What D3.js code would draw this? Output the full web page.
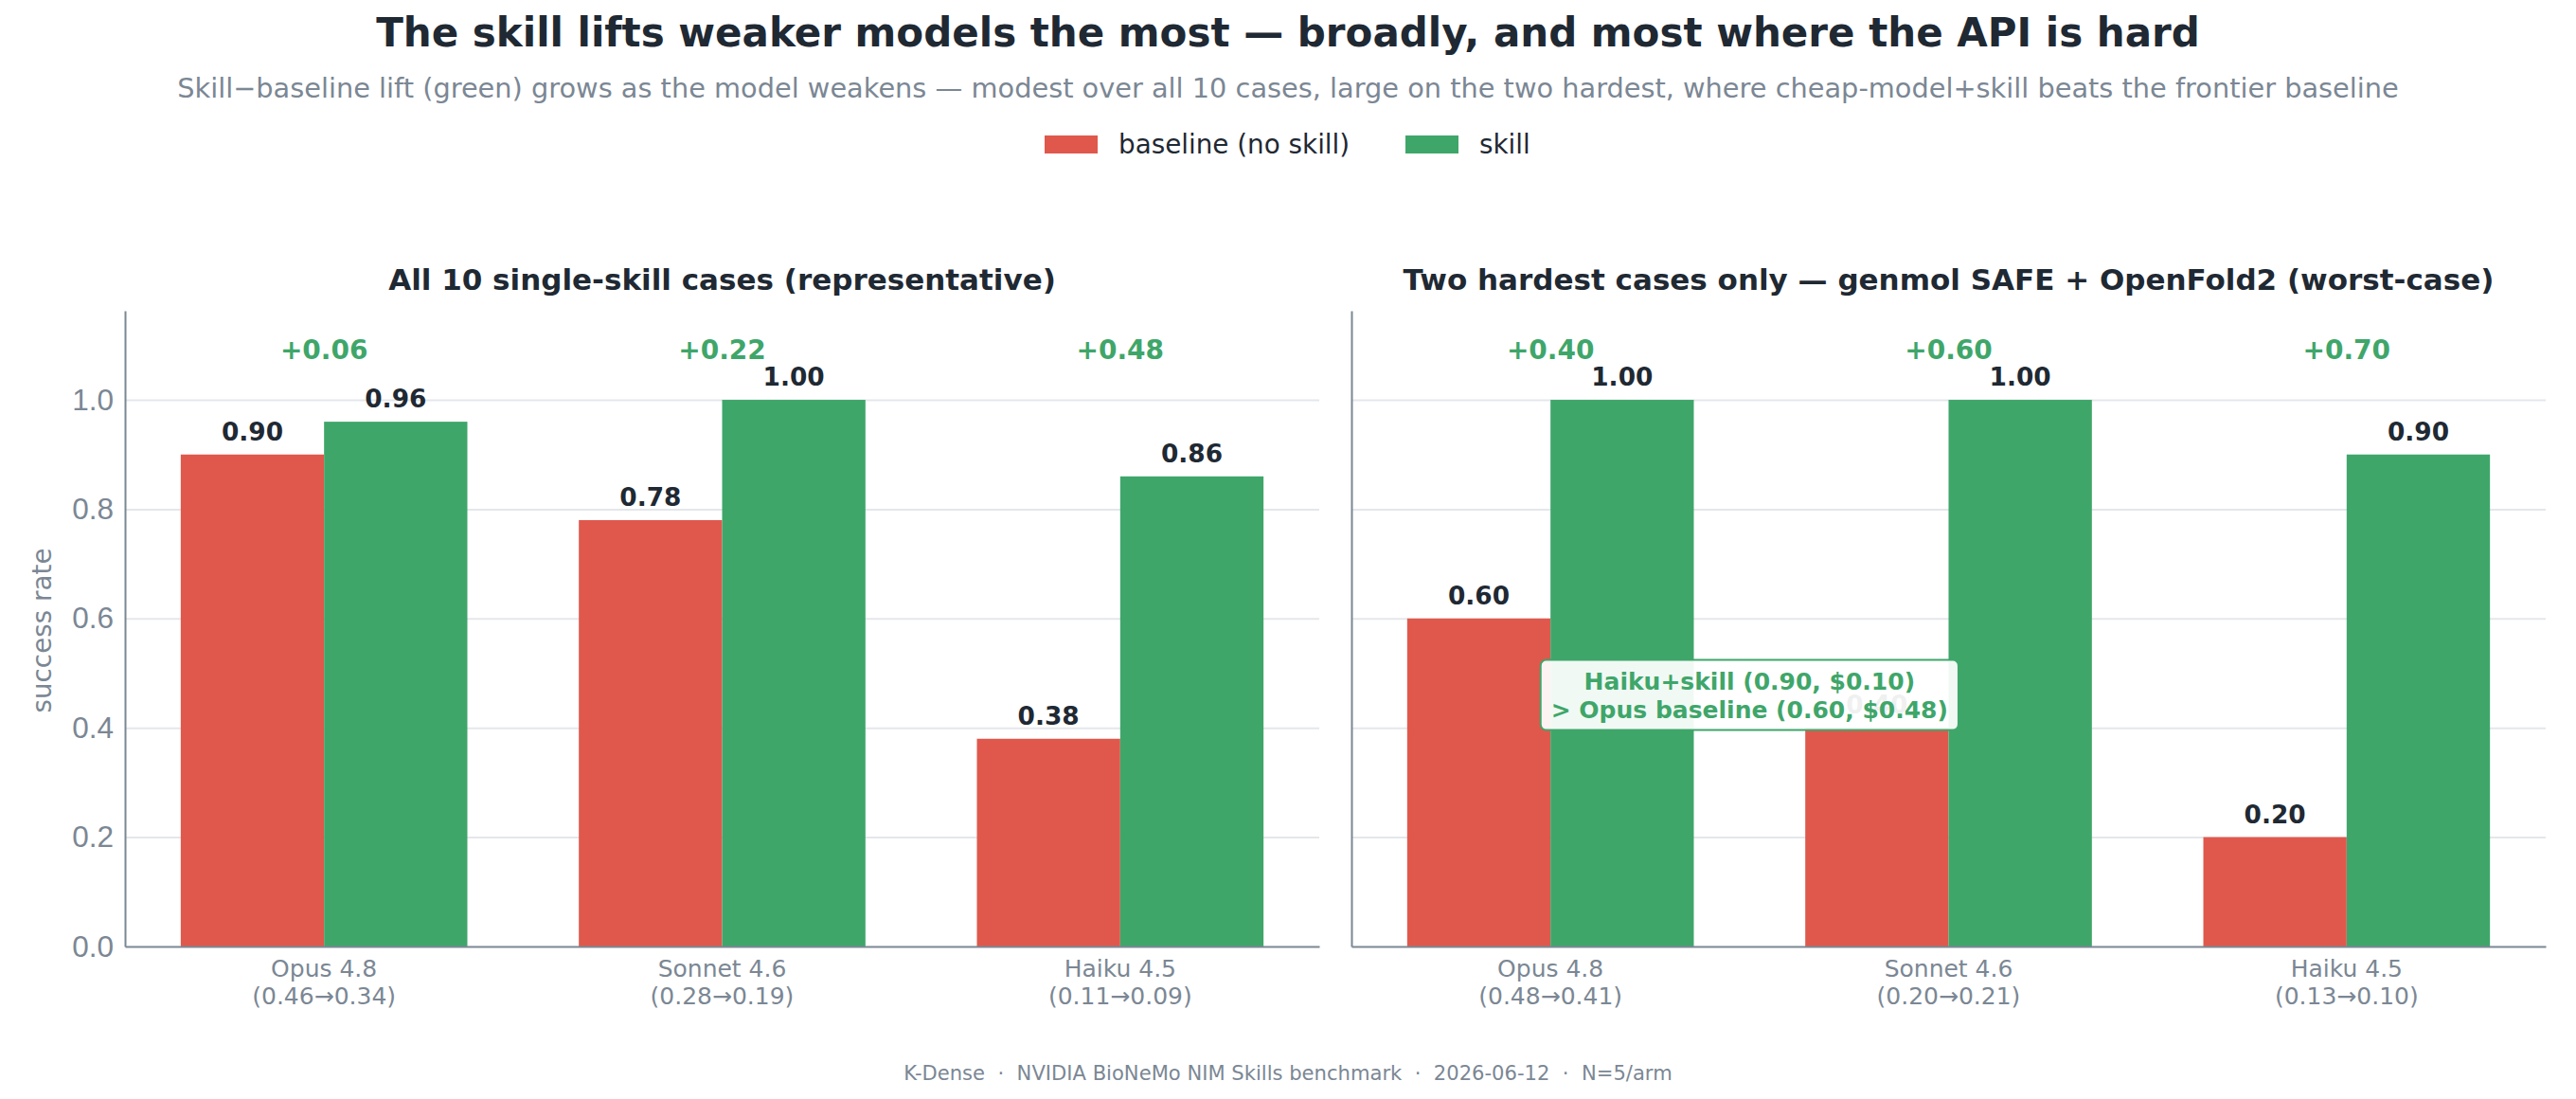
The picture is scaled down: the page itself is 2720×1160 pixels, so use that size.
<!DOCTYPE html>
<html lang="en">
<head>
<meta charset="UTF-8">
<title>Skill lift by model</title>
<script src="https://cdn.jsdelivr.net/npm/d3@7"></script>
<style>
    html, body { margin: 0; padding: 0; background: #ffffff; }
    svg { display: block; font-family: "DejaVu Sans", sans-serif; }
    .grid line { stroke: #e4e7eb; stroke-width: 2; }
    .grid .domain { display: none; }
    .yaxis .domain, .xaxis .domain { stroke: #7b8794; stroke-width: 2; }
    .yaxis text { fill: #7b8794; font-size: 31.5px; }
</style>
</head>
<body>
<svg id="chart" width="2720" height="1160"></svg>
<script>
// ---- data ----
var models = ["Opus 4.8", "Sonnet 4.6", "Haiku 4.5"];
var series = ["baseline (no skill)", "skill"];
var colors = ["#e0584c", "#3fa66a"];

var allBaseline = [0.90, 0.78, 0.38];
var allSkill = [0.96, 1.00, 0.86];
var allCost = ["(0.46→0.34)", "(0.28→0.19)", "(0.11→0.09)"];

var hardBaseline = [0.60, 0.40, 0.20];
var hardSkill = [1.00, 1.00, 0.90];
var hardCost = ["(0.48→0.41)", "(0.20→0.21)", "(0.13→0.10)"];

var yTicks = [0, 0.2, 0.4, 0.6, 0.8, 1.0];
var yMax = 1.163;

var noteLines = ["Haiku+skill (0.90, $0.10)", "> Opus baseline (0.60, $0.48)"];
var noteAt = {x: 0.5, y: 0.46}; // group units / data units of the right panel

var svg = d3.select("#chart");
var dark = "#1f2933", gray = "#7b8794";

// ---- header ----
svg.append("text").attr("x", 1360).attr("y", 49)
    .attr("text-anchor", "middle").attr("font-size", 42).attr("font-weight", "bold")
    .attr("fill", dark)
    .text("The skill lifts weaker models the most — broadly, and most where the API is hard");

svg.append("text").attr("x", 1360).attr("y", 103)
    .attr("text-anchor", "middle").attr("font-size", 28.8).attr("fill", gray)
    .text("Skill\u2212baseline lift (green) grows as the model weakens — modest over all 10 cases, large on the two hardest, where cheap-model+skill beats the frontier baseline");

// legend
var legend = svg.append("g").attr("transform", "translate(1103,143)");
var legX = [0, 381];
series.forEach(function(s, i) {
    var g = legend.append("g").attr("transform", "translate(" + legX[i] + ",0)");
    g.append("rect").attr("width", 56).attr("height", 19).attr("fill", colors[i]);
    g.append("text").attr("x", 78).attr("y", 9.5).attr("dy", "0.35em")
        .attr("font-size", 27.8).attr("fill", dark).text(s);
});

// footer
svg.append("text").attr("x", 1360).attr("y", 1140)
    .attr("text-anchor", "middle").attr("font-size", 21.1).attr("fill", gray)
    .style("white-space", "pre")
    .text("K-Dense  ·  NVIDIA BioNeMo NIM Skills benchmark  ·  2026-06-12  ·  N=5/arm");

// ---- panels ----
var yTop = 328, yBottom = 999;
var y = d3.scaleLinear().domain([0, yMax]).range([yBottom, yTop]);

function drawPanel(x0, x1, title, base, skill, cost, showY) {
    var g = svg.append("g");
    var x = d3.scaleBand().domain(models).range([x0, x1])
        .paddingInner(0.28).paddingOuter(0.14);
    var xs = d3.scaleBand().domain(series).range([0, x.bandwidth()]);

    // gridlines
    g.append("g").attr("class", "grid")
        .attr("transform", "translate(" + x0 + ",0)")
        .call(d3.axisLeft(y).tickValues(yTicks.slice(1)).tickSize(-(x1 - x0)).tickFormat(""));

    // bars
    var rows = models.map(function(m, i) { return {model: m, vals: [base[i], skill[i]]}; });
    var grp = g.selectAll(".grp").data(rows).enter().append("g")
        .attr("transform", function(d) { return "translate(" + x(d.model) + ",0)"; });
    grp.selectAll("rect").data(function(d) { return d.vals; }).enter().append("rect")
        .attr("x", function(d, i) { return xs(series[i]); })
        .attr("y", function(d) { return y(d); })
        .attr("width", xs.bandwidth())
        .attr("height", function(d) { return yBottom - y(d); })
        .attr("fill", function(d, i) { return colors[i]; });
    grp.selectAll(".val").data(function(d) { return d.vals; }).enter().append("text")
        .attr("x", function(d, i) { return xs(series[i]) + xs.bandwidth() / 2; })
        .attr("y", function(d) { return y(d) - 15; })
        .attr("text-anchor", "middle").attr("font-size", 26.4).attr("font-weight", "bold")
        .attr("fill", dark).text(function(d) { return d.toFixed(2); });

    // lift labels
    grp.append("text")
        .attr("x", x.bandwidth() / 2).attr("y", y(1.075))
        .attr("text-anchor", "middle").attr("font-size", 28).attr("font-weight", "bold")
        .attr("fill", colors[1])
        .text(function(d) { return "+" + (d.vals[1] - d.vals[0]).toFixed(2); });

    // axes
    g.append("g").attr("class", "yaxis").attr("transform", "translate(" + x0 + ",0)")
        .call(d3.axisLeft(y).tickValues(showY ? yTicks : []).tickSize(0).tickSizeOuter(0).tickPadding(12)
            .tickFormat(d3.format(".1f")));
    g.append("g").attr("class", "xaxis").attr("transform", "translate(0," + yBottom + ")")
        .call(d3.axisBottom(x).tickSize(0).tickSizeOuter(0).tickFormat(""));

    var xl = g.selectAll(".xl").data(models).enter().append("text")
        .attr("text-anchor", "middle").attr("font-size", 25).attr("fill", gray);
    xl.append("tspan").attr("x", function(d) { return x(d) + x.bandwidth() / 2; })
        .attr("y", 1031).text(function(d) { return d; });
    xl.append("tspan").attr("x", function(d) { return x(d) + x.bandwidth() / 2; })
        .attr("y", 1060).text(function(d, i) { return cost[i]; });

    // title
    g.append("text").attr("x", (x0 + x1) / 2).attr("y", 306)
        .attr("text-anchor", "middle").attr("font-size", 31).attr("font-weight", "bold")
        .attr("fill", dark).text(title);

    return x;
}

drawPanel(132, 1393, "All 10 single-skill cases (representative)",
    allBaseline, allSkill, allCost, true);
var xr = drawPanel(1427, 2688, "Two hardest cases only — genmol SAFE + OpenFold2 (worst-case)",
    hardBaseline, hardSkill, hardCost, false);

// y label
svg.append("text")
    .attr("transform", "translate(54," + ((yTop + yBottom) / 2 + 2) + ") rotate(-90)")
    .attr("text-anchor", "middle").attr("font-size", 27.8).attr("fill", gray)
    .text("success rate");

// annotation box on the right panel (x in group units: 0 = first group centre)
var step = xr.step();
var noteX = xr(models[0]) + xr.bandwidth() / 2 + noteAt.x * step;
var noteY = y(noteAt.y);
var note = svg.append("g");
var nt = note.append("text").attr("text-anchor", "middle").attr("font-size", 25)
    .attr("font-weight", "bold").attr("fill", colors[1]);
noteLines.forEach(function(l, i) {
    nt.append("tspan").attr("x", noteX).attr("y", noteY - 6 + i * 30).text(l);
});
var bb = nt.node().getBBox();
note.insert("rect", "text")
    .attr("x", bb.x - 11).attr("y", bb.y - 8)
    .attr("width", bb.width + 22).attr("height", bb.height + 15)
    .attr("rx", 6).attr("fill", "#ffffff").attr("fill-opacity", 0.93)
    .attr("stroke", colors[1]).attr("stroke-width", 2);
</script>
</body>
</html>
